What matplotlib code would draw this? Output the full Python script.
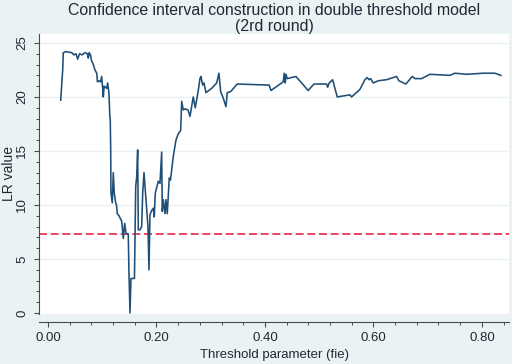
#!/usr/bin/env python3
"""
plot.py - LR statistic vs threshold parameter (double threshold model, 2nd round).
Stata s2color-like look.
"""
import matplotlib
matplotlib.use("Agg")
import matplotlib.pyplot as plt
from matplotlib.ticker import MultipleLocator

# threshold parameter (fie)
fie = [0.0234, 0.0271, 0.0282, 0.0332, 0.0437, 0.0479, 0.0516, 0.0547, 0.0581, 0.0627,
       0.0682, 0.0728, 0.0743, 0.0759, 0.0783, 0.0806, 0.0829, 0.0866, 0.0898, 0.0912,
       0.0940, 0.0968, 0.0990, 0.1008, 0.1019, 0.1036, 0.1082, 0.1100, 0.1124, 0.1139,
       0.1148, 0.1156, 0.1161, 0.1185, 0.1204, 0.1222, 0.1248, 0.1263, 0.1277, 0.1309,
       0.1359, 0.1388, 0.1414, 0.1438, 0.1480, 0.1493, 0.1512, 0.1530, 0.1594, 0.1617,
       0.1635, 0.1653, 0.1665, 0.1696, 0.1727, 0.1746, 0.1770, 0.1806, 0.1843, 0.1862,
       0.1880, 0.1912, 0.1941, 0.1959, 0.1978, 0.2033, 0.2065, 0.2096, 0.2107, 0.2125,
       0.2157, 0.2175, 0.2199, 0.2236, 0.2258, 0.2280, 0.2310, 0.2359, 0.2402, 0.2446,
       0.2465, 0.2494, 0.2525, 0.2581, 0.2618, 0.2649, 0.2678, 0.2715, 0.2771, 0.2802,
       0.2820, 0.2852, 0.2876, 0.2912, 0.3018, 0.3110, 0.3152, 0.3183, 0.3231, 0.3281,
       0.3305, 0.3368, 0.3489, 0.4079, 0.4111, 0.4308, 0.4337, 0.4356, 0.4374, 0.4387,
       0.4411, 0.4571, 0.4798, 0.4903, 0.5137, 0.5156, 0.5185, 0.5248, 0.5333, 0.5567,
       0.5598, 0.5751, 0.5843, 0.5886, 0.5917, 0.5948, 0.5996, 0.6088, 0.6243, 0.6428,
       0.6470, 0.6599, 0.6715, 0.6765, 0.6889, 0.7041, 0.7410, 0.7502, 0.7718, 0.8024,
       0.8240, 0.8350]

# LR value
lr = [19.7, 22.5, 24.1, 24.2, 24.1, 23.9, 24.0, 23.5, 24.0, 23.9,
      24.1, 24.0, 23.6, 24.1, 23.9, 23.3, 23.1, 22.5, 22.2, 21.4,
      21.5, 21.4, 21.9, 20.8, 20.0, 21.0, 20.8, 21.3, 20.3, 18.3,
      17.9, 15.1, 11.1, 10.2, 13.0, 11.1, 10.2, 10.0, 9.2, 9.0,
      8.5, 6.9, 8.3, 7.4, 7.3, 3.7, 0.0, 3.2, 3.2, 11.7,
      12.6, 15.1, 7.7, 7.7, 8.0, 11.1, 13.0, 10.5, 8.0, 4.0,
      9.1, 9.5, 9.7, 8.9, 11.1, 12.2, 12.0, 14.9, 9.4, 10.5,
      9.2, 10.5, 9.2, 12.5, 12.3, 13.2, 14.5, 16.0, 16.6, 16.9,
      19.6, 18.8, 18.9, 18.8, 18.2, 19.1, 20.0, 19.0, 20.6, 21.7,
      21.9, 21.1, 21.3, 20.4, 20.8, 21.3, 22.2, 20.5, 19.9, 19.1,
      20.4, 20.5, 21.2, 21.1, 20.6, 21.3, 21.4, 22.2, 21.3, 22.1,
      21.7, 21.9, 20.6, 21.2, 21.2, 20.9, 21.3, 21.6, 20.0, 20.2,
      20.0, 20.7, 21.6, 21.8, 21.6, 21.7, 21.3, 21.5, 21.6, 21.9,
      21.5, 21.2, 21.9, 21.7, 21.7, 22.1, 22.0, 22.2, 22.1, 22.2,
      22.2, 22.0]

# critical value (95%)
crit_value = 7.35

x_ticks = [0.0, 0.2, 0.4, 0.6, 0.8]
x_tick_labels = ["0.00", "0.20", "0.40", "0.60", "0.80"]
y_ticks = [0, 5, 10, 15, 20, 25]

BG = "#EAF2F3"
NAVY = "#1f4e76"
RED = "#E8254A"
AXIS = "#4a4a4a"
TEXT = "#1e2a36"


def setup_style():
    plt.rcParams.update({
        "font.family": ["Liberation Sans", "DejaVu Sans"],
        "figure.dpi": 100,
        "savefig.dpi": 100,
    })


def main():
    setup_style()
    fig = plt.figure(figsize=(5.12, 3.64), facecolor=BG)
    ax = fig.add_axes([39 / 512, 50 / 364, 470 / 512, 280 / 364], facecolor="white")

    ax.set_xlim(-0.0166, 0.850)
    ax.set_ylim(-0.09, 25.83)

    for y in y_ticks[1:]:
        ax.axhline(y, color=BG, linewidth=1.0, zorder=0)

    ax.plot(fie, lr, color=NAVY, linewidth=1.15, zorder=3)
    ax.axhline(crit_value, color=RED, linewidth=1.2, linestyle=(0, (4.8, 2.2)), zorder=2)

    ax.spines["top"].set_visible(False)
    ax.spines["right"].set_visible(False)
    ax.spines["left"].set_color(AXIS)
    ax.spines["bottom"].set_color(AXIS)
    ax.spines["left"].set_linewidth(0.8)
    ax.spines["bottom"].set_linewidth(0.8)
    ax.spines["bottom"].set_position(("outward", 6))

    ax.set_xticks(x_ticks)
    ax.set_xticklabels(x_tick_labels)
    ax.xaxis.set_minor_locator(MultipleLocator(0.04))
    ax.set_yticks(y_ticks)
    ax.yaxis.set_minor_locator(MultipleLocator(1))

    ax.tick_params(axis="both", which="major", length=3.6, width=0.8, color=AXIS,
                   labelsize=9.5, labelcolor=TEXT)
    ax.tick_params(axis="both", which="minor", length=2.2, width=0.7, color=AXIS)
    ax.tick_params(axis="x", which="major", pad=3.5)
    ax.tick_params(axis="y", which="major", pad=4)
    for lab in ax.get_yticklabels():
        lab.set_rotation(90)
        lab.set_va("center")

    ax.set_xlabel("Threshold parameter (fie)", fontsize=9.5, color=TEXT)
    ax.xaxis.set_label_coords(0.5, -0.145)
    ax.xaxis.label.set_va("center")
    ax.set_ylabel("LR value", fontsize=10, color=TEXT)
    ax.yaxis.set_label_coords(-0.048, 0.5)

    fig.text(274 / 512, 1 - 18.5 / 364,
             "Confidence interval construction in double threshold model\n(2rd round)",
             ha="center", va="center", fontsize=11.4, color=TEXT, linespacing=1.08)

    fig.savefig("out.png", facecolor=BG)
    plt.close(fig)


if __name__ == "__main__":
    main()
